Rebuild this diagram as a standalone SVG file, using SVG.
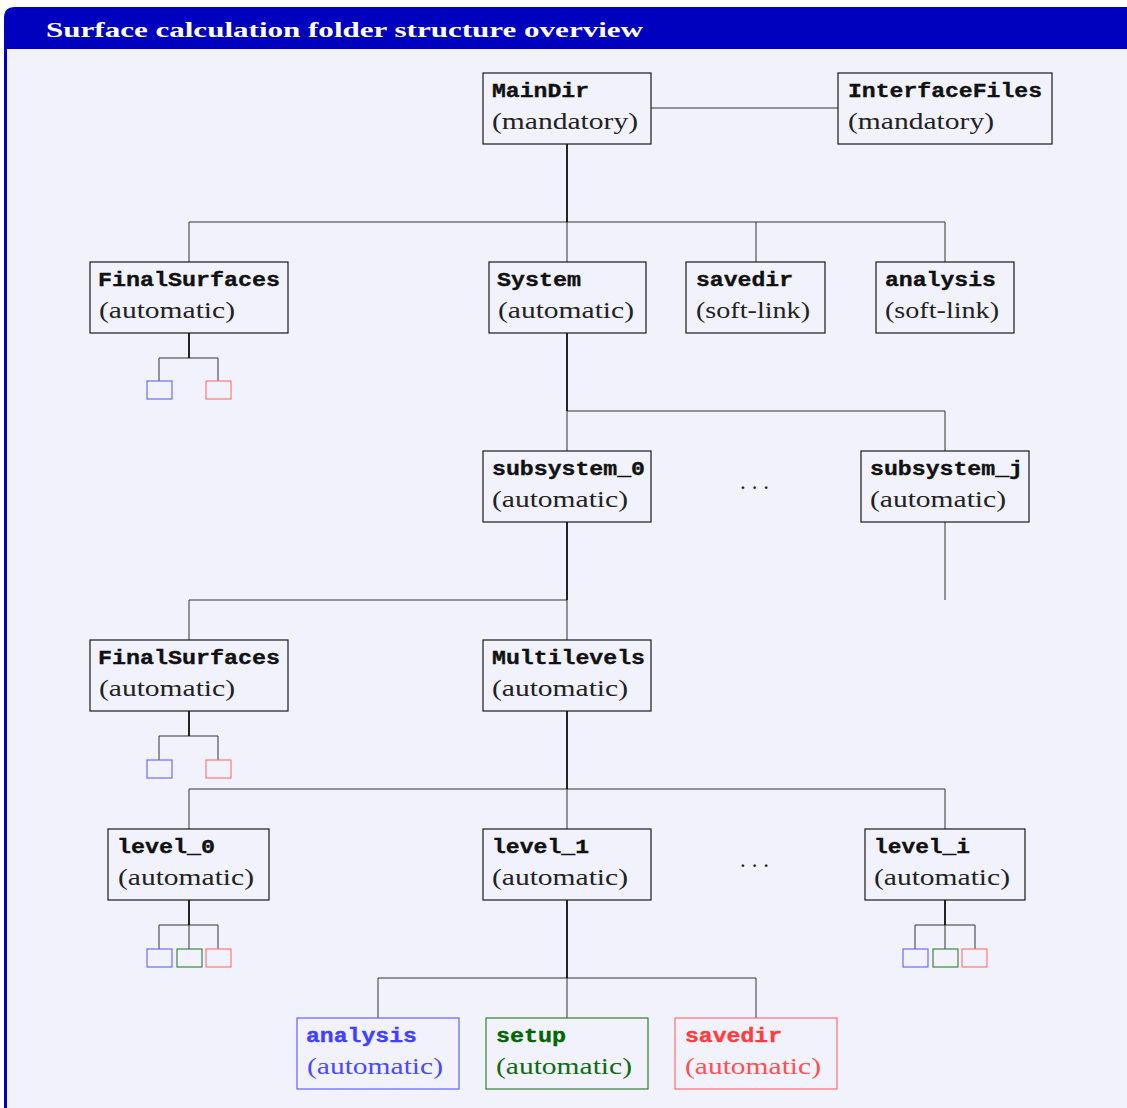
<svg xmlns="http://www.w3.org/2000/svg" width="1127" height="1108" viewBox="0 0 1127 1108">
<style>
.box{fill:none;stroke:#1a1a1a;stroke-width:1.2}
.mono{font-family:"Liberation Mono","DejaVu Sans Mono",monospace;font-weight:bold;font-size:19.5px;fill:#111;stroke:#111;stroke-width:0.35}
.ser{font-family:"Liberation Serif","DejaVu Serif",serif;font-size:23px;fill:#222}
.con{fill:none;stroke:#333;stroke-width:1}
.trunk{fill:none;stroke:#000;stroke-width:1.7}
.sb{fill:none;stroke:#6262ff;stroke-width:1.1}
.sg{fill:none;stroke:#2f7f2f;stroke-width:1.1}
.sr{fill:none;stroke:#ff6f6f;stroke-width:1.1}
</style>
<rect width="1127" height="1108" fill="#ffffff"/>
<path d="M4,1108 V18 Q4,7 15,7 H1127 V1108 Z" fill="#0000bf"/>
<rect x="7" y="49" width="1120" height="1059" fill="#f2f2fd"/>
<text x="46" y="37" font-family="Liberation Serif,serif" font-weight="bold" font-size="22" fill="#ffffff" textLength="597" lengthAdjust="spacingAndGlyphs">Surface calculation folder structure overview</text>

<g id="connectors">
<path class="con" d="M651,108 H838"/>
<path class="con" d="M567,222 V262 M189,262 V222 H945 V262 M756,222 V262"/>
<path class="con" d="M159,381 V358 H218 V381"/>
<path class="con" d="M567,411 V451 M567,411 H945 V451"/>
<path class="con" d="M945,522 V600"/>
<path class="con" d="M567,600 V640 M189,640 V600 H567"/>
<path class="con" d="M159,760 V736 H218 V760"/>
<path class="con" d="M567,789 V829 M189,829 V789 H945 V829"/>
<path class="con" d="M189,925 V949 M159,949 V925 H218 V949"/>
<path class="con" d="M945,925 V949 M915,949 V925 H975 V949"/>
<path class="con" d="M567,978 V1018 M378,1018 V978 H756 V1018"/>
<path class="trunk" d="M567,144 V222 M189,333 V358 M567,333 V411 M567,522 V600 M189,711 V736 M567,711 V789 M189,900 V925 M945,900 V925 M567,900 V978"/>
</g>

<g id="MainDir"><rect class="box" x="483" y="73" width="168" height="71"/><text class="mono" x="492" y="97" textLength="97" lengthAdjust="spacingAndGlyphs">MainDir</text><text class="ser" x="492" y="128.5" textLength="146" lengthAdjust="spacingAndGlyphs">(mandatory)</text></g>
<g id="InterfaceFiles"><rect class="box" x="838" y="73" width="214" height="71"/><text class="mono" x="848" y="97" textLength="194" lengthAdjust="spacingAndGlyphs">InterfaceFiles</text><text class="ser" x="848" y="128.5" textLength="146" lengthAdjust="spacingAndGlyphs">(mandatory)</text></g>

<g id="FinalSurfaces1"><rect class="box" x="90" y="262" width="198" height="71"/><text class="mono" x="98" y="286" textLength="182" lengthAdjust="spacingAndGlyphs">FinalSurfaces</text><text class="ser" x="99" y="317.5" textLength="136" lengthAdjust="spacingAndGlyphs">(automatic)</text></g>
<g id="System"><rect class="box" x="489" y="262" width="157" height="71"/><text class="mono" x="497" y="286" textLength="84" lengthAdjust="spacingAndGlyphs">System</text><text class="ser" x="498" y="317.5" textLength="136" lengthAdjust="spacingAndGlyphs">(automatic)</text></g>
<g id="savedir_top"><rect class="box" x="686" y="262" width="139" height="71"/><text class="mono" x="696" y="286" textLength="97" lengthAdjust="spacingAndGlyphs">savedir</text><text class="ser" x="696" y="317.5" textLength="114" lengthAdjust="spacingAndGlyphs">(soft-link)</text></g>
<g id="analysis_top"><rect class="box" x="876" y="262" width="138" height="71"/><text class="mono" x="885" y="286" textLength="111" lengthAdjust="spacingAndGlyphs">analysis</text><text class="ser" x="885" y="317.5" textLength="114" lengthAdjust="spacingAndGlyphs">(soft-link)</text></g>

<g id="FS1_children"><rect class="sb" x="147" y="381" width="25" height="18"/><rect class="sr" x="206" y="381" width="25" height="18"/></g>

<g id="subsystem_0"><rect class="box" x="483" y="451" width="168" height="71"/><text class="mono" x="492" y="475" textLength="153" lengthAdjust="spacingAndGlyphs">subsystem_0</text><text class="ser" x="492" y="506.5" textLength="136" lengthAdjust="spacingAndGlyphs">(automatic)</text></g>
<g id="dots1"><text class="ser" x="740" y="489" textLength="29" lengthAdjust="spacing">...</text></g>
<g id="subsystem_j"><rect class="box" x="861" y="451" width="168" height="71"/><text class="mono" x="870" y="475" textLength="153" lengthAdjust="spacingAndGlyphs">subsystem_j</text><text class="ser" x="870" y="506.5" textLength="136" lengthAdjust="spacingAndGlyphs">(automatic)</text></g>

<g id="FinalSurfaces2"><rect class="box" x="90" y="640" width="198" height="71"/><text class="mono" x="98" y="664" textLength="182" lengthAdjust="spacingAndGlyphs">FinalSurfaces</text><text class="ser" x="99" y="695.5" textLength="136" lengthAdjust="spacingAndGlyphs">(automatic)</text></g>
<g id="Multilevels"><rect class="box" x="483" y="640" width="168" height="71"/><text class="mono" x="492" y="664" textLength="153" lengthAdjust="spacingAndGlyphs">Multilevels</text><text class="ser" x="492" y="695.5" textLength="136" lengthAdjust="spacingAndGlyphs">(automatic)</text></g>
<g id="FS2_children"><rect class="sb" x="147" y="760" width="25" height="18"/><rect class="sr" x="206" y="760" width="25" height="18"/></g>

<g id="level_0"><rect class="box" x="108" y="829" width="161" height="71"/><text class="mono" x="117" y="853" textLength="98" lengthAdjust="spacingAndGlyphs">level_0</text><text class="ser" x="118" y="884.5" textLength="136" lengthAdjust="spacingAndGlyphs">(automatic)</text></g>
<g id="level_1"><rect class="box" x="483" y="829" width="168" height="71"/><text class="mono" x="492" y="853" textLength="97" lengthAdjust="spacingAndGlyphs">level_1</text><text class="ser" x="492" y="884.5" textLength="136" lengthAdjust="spacingAndGlyphs">(automatic)</text></g>
<g id="dots2"><text class="ser" x="740" y="867" textLength="29" lengthAdjust="spacing">...</text></g>
<g id="level_i"><rect class="box" x="865" y="829" width="160" height="71"/><text class="mono" x="874" y="853" textLength="96" lengthAdjust="spacingAndGlyphs">level_i</text><text class="ser" x="874" y="884.5" textLength="136" lengthAdjust="spacingAndGlyphs">(automatic)</text></g>

<g id="level0_children"><rect class="sb" x="147" y="949" width="25" height="18"/><rect class="sg" x="177" y="949" width="25" height="18"/><rect class="sr" x="206" y="949" width="25" height="18"/></g>
<g id="leveli_children"><rect class="sb" x="903" y="949" width="25" height="18"/><rect class="sg" x="933" y="949" width="25" height="18"/><rect class="sr" x="962" y="949" width="25" height="18"/></g>

<g id="analysis"><rect x="297" y="1018" width="162" height="71" fill="none" stroke="#6262ff" stroke-width="1.2"/><text class="mono" x="306" y="1042" textLength="111" lengthAdjust="spacingAndGlyphs" style="fill:#4040ff;stroke:#4040ff">analysis</text><text class="ser" x="307" y="1073.5" textLength="136" lengthAdjust="spacingAndGlyphs" style="fill:#4a4aff">(automatic)</text></g>
<g id="setup"><rect x="486" y="1018" width="162" height="71" fill="none" stroke="#2f7f2f" stroke-width="1.2"/><text class="mono" x="496" y="1042" textLength="70" lengthAdjust="spacingAndGlyphs" style="fill:#006600;stroke:#006600">setup</text><text class="ser" x="496" y="1073.5" textLength="136" lengthAdjust="spacingAndGlyphs" style="fill:#106b10">(automatic)</text></g>
<g id="savedir"><rect x="675" y="1018" width="162" height="71" fill="none" stroke="#ff6f6f" stroke-width="1.2"/><text class="mono" x="685" y="1042" textLength="97" lengthAdjust="spacingAndGlyphs" style="fill:#ff3c3c;stroke:#ff3c3c">savedir</text><text class="ser" x="685" y="1073.5" textLength="136" lengthAdjust="spacingAndGlyphs" style="fill:#ff5050">(automatic)</text></g>
</svg>
